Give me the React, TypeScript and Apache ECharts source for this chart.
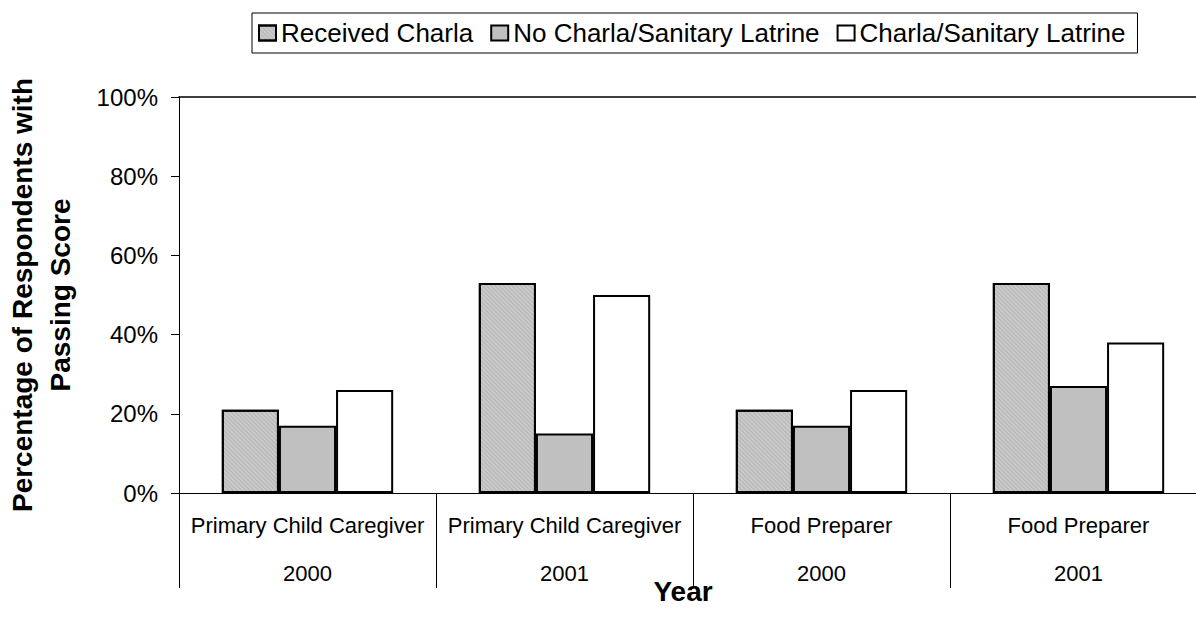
import React, { useEffect, useRef } from "react";
import * as echarts from "echarts";

const roles = ["Primary Child Caregiver", "Primary Child Caregiver", "Food Preparer", "Food Preparer"];
const years = ["2000", "2001", "2000", "2001"];
const seriesNames = ["Received Charla", "No Charla/Sanitary Latrine", "Charla/Sanitary Latrine"];
const receivedCharla = [21, 53, 21, 53];
const noCharlaLatrine = [17, 15, 17, 27];
const charlaLatrine = [26, 50, 26, 38];
const yTicks = [0, 20, 40, 60, 80, 100];

const FONT = "Arial, 'Liberation Sans', Helvetica, sans-serif";

export default function App() {
  const ref = useRef<HTMLDivElement>(null);
  useEffect(() => {
    if (!ref.current) return;
    const chart = echarts.init(ref.current, undefined, { renderer: "svg" });
    const barBase = {
      type: "bar" as const,
      barGap: "0%",
      barCategoryGap: "33.33%",
    };
    const catIds = roles.map((_, i) => String(i));
    chart.setOption({
      animation: false,
      backgroundColor: "#ffffff",
      textStyle: { fontFamily: FONT, color: "#000" },
      legend: {
        left: 252,
        top: 13,
        orient: "horizontal",
        icon: "rect",
        itemWidth: 17,
        itemHeight: 15,
        itemGap: 17,
        padding: [7, 12, 7, 6],
        borderColor: "#000",
        borderWidth: 1,
        textStyle: { fontSize: 26, color: "#000", fontFamily: FONT },
        data: seriesNames,
      },
      grid: {
        left: 179,
        top: 97,
        width: 1028,
        height: 396,
        show: false,
        containLabel: false,
        outerBoundsMode: "none",
      },
      xAxis: [
        {
          type: "category",
          data: catIds,
          axisLine: { show: true, lineStyle: { color: "#000", width: 1 } },
          axisTick: { show: true, length: 95, interval: 0, alignWithLabel: false, lineStyle: { color: "#000", width: 1 } },
          axisLabel: {
            interval: 0,
            margin: 8,
            hideOverlap: false,
            formatter: (_v: string, i: number) => `{a|${roles[i]}}\n{b|${years[i]}}`,
            rich: {
              a: { fontSize: 22, lineHeight: 48, color: "#000", fontFamily: FONT },
              b: { fontSize: 22, lineHeight: 48, color: "#000", fontFamily: FONT },
            },
          },
          name: "Year",
          nameLocation: "middle",
          nameGap: 84,
          nameMoveOverlap: false,
          nameTextStyle: { fontSize: 28, fontWeight: "bold", color: "#000", fontFamily: FONT, padding: [0, 20, 0, 0] },
          splitLine: { show: false },
        },
        {
          type: "category",
          data: catIds,
          position: "top",
          axisLine: { show: true, lineStyle: { color: "#000", width: 1.5 } },
          axisTick: { show: false },
          axisLabel: { show: false },
          splitLine: { show: false },
        },
      ],
      yAxis: {
        type: "value",
        min: yTicks[0],
        max: yTicks[yTicks.length - 1],
        interval: yTicks[1] - yTicks[0],
        axisLine: { show: true, lineStyle: { color: "#000", width: 1 } },
        axisTick: { show: true, length: 8, inside: false, lineStyle: { color: "#000", width: 1 } },
        axisLabel: { formatter: "{value}%", fontSize: 24, margin: 21, color: "#000", fontFamily: FONT },
        splitLine: { show: false },
        name: "Percentage of Respondents with\nPassing Score",
        nameLocation: "middle",
        nameRotate: 90,
        nameGap: 100,
        nameMoveOverlap: false,
        nameTextStyle: { fontSize: 28, fontWeight: "bold", lineHeight: 38, color: "#000", fontFamily: FONT, align: "center" },
      },
      series: [
        {
          ...barBase,
          name: seriesNames[0],
          data: receivedCharla,
          itemStyle: {
            color: "#bcbcbc",
            borderColor: "#000",
            borderWidth: 2,
            decal: {
              symbol: "rect",
              symbolSize: 1,
              color: "rgba(255,255,255,0.3)",
              dashArrayX: [1, 0],
              dashArrayY: [1, 2],
              rotation: Math.PI / 4,
            },
          },
        },
        {
          ...barBase,
          name: seriesNames[1],
          data: noCharlaLatrine,
          itemStyle: { color: "#c0c0c0", borderColor: "#000", borderWidth: 2 },
        },
        {
          ...barBase,
          name: seriesNames[2],
          data: charlaLatrine,
          itemStyle: { color: "#ffffff", borderColor: "#000", borderWidth: 2 },
        },
      ],
    });
    return () => chart.dispose();
  }, []);
  return (
    <div
      ref={ref}
      style={{ position: "fixed", left: 0, top: 0, width: 1196, height: 629, background: "#fff", overflow: "hidden" }}
    />
  );
}
